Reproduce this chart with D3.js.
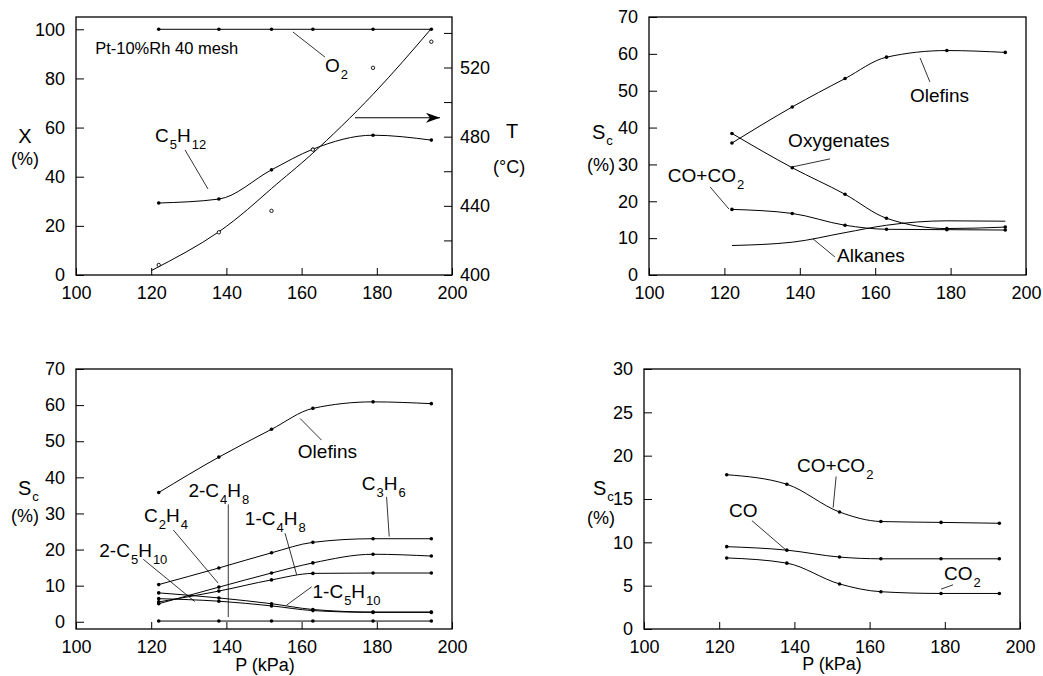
<!DOCTYPE html>
<html lang="en">
<head>
<meta charset="utf-8">
<script src="https://d3js.org/d3.v7.min.js"></script>
<style>
  body { margin: 0; background: #fff; }
  svg { display: block; font-family: "Liberation Sans", Arial, Helvetica, sans-serif; }
  .tick line { stroke: #000; stroke-width: 1; }
  .tick text { font-size: 18px; fill: #000; font-family: "Liberation Sans", Arial, sans-serif; }
  .frame { fill: none; stroke: #000; stroke-width: 1.3; }
  .curve { fill: none; stroke: #000; stroke-width: 1; }
  .leader { stroke: #000; stroke-width: 0.8; }
</style>
</head>
<body>
<svg width="1043" height="676"></svg>
<script>

// pressure (kPa) of the six runs
var pressure = [122, 138, 152, 163, 179, 194.5];

// top left: conversion (%) and catalyst temperature (°C)
var convO2 = [100, 100, 100, 100, 100, 100];
var convC5H12 = [29.3, 30.9, 42.8, 51.2, 56.9, 54.9];
var tempMeasured = [405.8, 424.7, 437.1, 472.5, 519.8, 534.9];
var tempFitP = [120, 138, 152, 163, 179, 194.5];
var tempFit = [402.5, 425, 450, 470.5, 504.5, 542.5];

// top right: carbon selectivity by product group (%)
var selOlefins = [35.8, 45.6, 53.3, 59.1, 60.9, 60.4];
var selOxygenates = [38.4, 29.1, 21.9, 15.4, 12.6, 13.0];
var selCOx = [17.8, 16.7, 13.5, 12.4, 12.3, 12.2];
var selAlkanes = [8.0, 8.9, 11.5, 13.5, 14.7, 14.6];

// bottom left: olefin breakdown (%)
var selC3H6 = [10.3, 14.9, 19.1, 22.0, 23.0, 23.0];
var selC2H4 = [5.0, 9.6, 13.5, 16.3, 18.7, 18.2];
var sel1C4H8 = [5.5, 8.5, 11.6, 13.4, 13.5, 13.5];
var sel2C5H10 = [8.0, 6.6, 5.0, 3.4, 2.7, 2.7];
var sel1C5H10 = [6.4, 5.7, 4.4, 3.1, 2.6, 2.6];
var sel2C4H8 = [0.2, 0.2, 0.2, 0.2, 0.2, 0.2];

// bottom right: carbon oxides (%)
var selCO = [9.5, 9.1, 8.3, 8.1, 8.1, 8.1];
var selCO2 = [8.2, 7.6, 5.2, 4.3, 4.1, 4.1];

var xTicks = [100, 120, 140, 160, 180, 200];
var xTicksY1 = [0, 20, 40, 60, 80, 100];
var tTicks = [400, 420, 440, 460, 480, 500, 520, 540];
var tLabels = [400, 440, 480, 520];
var sTicks70 = [0, 10, 20, 30, 40, 50, 60, 70];
var sTicks30 = [0, 5, 10, 15, 20, 25, 30];


var svg = d3.select("svg");

svg.append("defs").append("marker")
  .attr("id", "arrow")
  .attr("viewBox", "0 0 14 10")
  .attr("refX", 14).attr("refY", 5)
  .attr("markerWidth", 14).attr("markerHeight", 10)
  .attr("markerUnits", "userSpaceOnUse")
  .attr("orient", "auto")
  .append("path")
  .attr("d", "M0,0 L14,5 L0,10 L4,5 Z")
  .attr("fill", "#000");

function panel(o) {
  var x = d3.scaleLinear().domain([100, 200]).range([o.left, o.right]);
  var y = d3.scaleLinear().domain(o.yDomain).range([o.bottom, o.top]);
  var g = svg.append("g");

  g.append("g")
    .attr("transform", "translate(0," + o.bottom + ")")
    .call(d3.axisBottom(x).tickValues(xTicks).tickSizeInner(-7).tickSizeOuter(0).tickPadding(11))
    .call(function (a) { a.select(".domain").remove(); });

  g.append("g")
    .attr("transform", "translate(" + o.left + ",0)")
    .call(d3.axisLeft(y).tickValues(o.yTicks).tickSizeInner(-8).tickSizeOuter(0).tickPadding(11))
    .call(function (a) { a.select(".domain").remove(); });

  g.append("rect")
    .attr("class", "frame")
    .attr("x", o.left).attr("y", o.top)
    .attr("width", o.right - o.left)
    .attr("height", o.bottom - o.top);

  return { g: g, x: x, y: y };
}

function series(p, xs, ys, dots, yScale, curve) {
  var ys_ = yScale || p.y;
  var line = d3.line()
    .x(function (d, i) { return p.x(xs[i]); })
    .y(function (d) { return ys_(d); })
    .curve(curve || d3.curveMonotoneX);
  p.g.append("path").datum(ys).attr("class", "curve").attr("d", line);
  if (dots) {
    p.g.append("g").selectAll("circle")
      .data(ys)
      .enter()
      .append("circle")
      .attr("cx", function (d, i) { return p.x(xs[i]); })
      .attr("cy", function (d) { return ys_(d); })
      .attr("r", 1.8)
      .attr("fill", "#000");
  }
}

// text with chemical subscripts written as _{..}
function label(g, str, x, y, size, subSize, subShift) {
  var t = g.append("text").attr("x", x).attr("y", y)
    .attr("font-size", size).attr("fill", "#000");
  var cur = 0;
  str.split(/(_\{[^}]*\})/).forEach(function (part) {
    if (!part) return;
    if (part.charAt(0) === "_") {
      t.append("tspan").attr("font-size", subSize).attr("dy", subShift - cur)
        .attr("dx", 1).text(part.slice(2, -1));
      cur = subShift;
    } else {
      t.append("tspan").attr("dy", -cur).text(part);
      cur = 0;
    }
  });
  return t;
}

function note(p, str, px, py) {
  return label(p.g, str, p.x(px), p.y(py), 19, 13, 7);
}

function leader(p, x1, y1, x2, y2) {
  p.g.append("line").attr("class", "leader")
    .attr("x1", p.x(x1)).attr("y1", p.y(y1))
    .attr("x2", p.x(x2)).attr("y2", p.y(y2));
}

// ---------- top left ----------
var p1 = panel({ left: 76, right: 452, top: 17, bottom: 275, yDomain: [0, 105], yTicks: xTicksY1 });
var tScale = d3.scaleLinear().domain([400, 549.2]).range([275, 17]);

p1.g.append("g")
  .attr("transform", "translate(452,0)")
  .call(d3.axisRight(tScale).tickValues(tTicks).tickSizeInner(-8).tickSizeOuter(0).tickPadding(8)
    .tickFormat(function (d) { return tLabels.indexOf(d) >= 0 ? d : ""; }))
  .call(function (a) { a.select(".domain").remove(); });

series(p1, pressure, convO2, true);
series(p1, pressure, convC5H12, true);
series(p1, tempFitP, tempFit, false, tScale, d3.curveNatural);

p1.g.append("g").selectAll("circle")
  .data(tempMeasured)
  .enter()
  .append("circle")
  .attr("cx", function (d, i) { return p1.x(pressure[i]); })
  .attr("cy", function (d) { return tScale(d); })
  .attr("r", 1.7)
  .attr("fill", "#fff")
  .attr("stroke", "#000")
  .attr("stroke-width", 0.9);

p1.g.append("line")
  .attr("x1", p1.x(174.2)).attr("y1", p1.y(64))
  .attr("x2", p1.x(196.8)).attr("y2", p1.y(64))
  .attr("stroke", "#000").attr("stroke-width", 1.1)
  .attr("marker-end", "url(#arrow)");

label(p1.g, "Pt-10%Rh 40 mesh", p1.x(105.1), p1.y(89.9), 16.5, 12, 6);
note(p1, "O_{2}", 166.2, 82.6);
leader(p1, 157.7, 98.9, 166.2, 88.7);
note(p1, "C_{5}H_{12}", 121.0, 54.1);
leader(p1, 129.0, 50.9, 135.1, 35.0);

label(svg, "X", 25, 143, 20, 13, 6).attr("text-anchor", "middle");
label(svg, "(%)", 25, 165, 18, 13, 6).attr("text-anchor", "middle");
label(svg, "T", 506, 138, 20, 13, 6);
label(svg, "(°C)", 493, 173, 18, 13, 6);

// ---------- top right ----------
var p2 = panel({ left: 649, right: 1026, top: 17, bottom: 275, yDomain: [0, 70], yTicks: sTicks70 });
series(p2, pressure, selOlefins, true);
series(p2, pressure, selOxygenates, true);
series(p2, pressure, selCOx, true);
series(p2, pressure, selAlkanes, false);

note(p2, "Olefins", 169.2, 47.0);
leader(p2, 171.9, 58.9, 174.5, 52.4);
note(p2, "Oxygenates", 136.9, 34.7);
leader(p2, 148.0, 31.5, 137.9, 29.3);
note(p2, "CO+CO_{2}", 105.0, 25.2);
leader(p2, 116.2, 23.9, 121.2, 17.9);
note(p2, "Alkanes", 149.9, 3.5);
leader(p2, 149.3, 4.9, 143.5, 9.8);

label(svg, "S_{c}", 592, 139, 20, 13, 6);
label(svg, "(%)", 587, 171, 18, 13, 6);

// ---------- bottom left ----------
var p3 = panel({ left: 76, right: 452, top: 369, bottom: 629, yDomain: [-2, 70], yTicks: sTicks70 });
series(p3, pressure, selOlefins, true);
series(p3, pressure, selC3H6, true);
series(p3, pressure, selC2H4, true);
series(p3, pressure, sel1C4H8, true);
series(p3, pressure, sel2C5H10, true);
series(p3, pressure, sel1C5H10, true);
series(p3, pressure, sel2C4H8, true);

note(p3, "Olefins", 159.0, 45.3);
leader(p3, 165.3, 50.3, 159.6, 56.3);
note(p3, "C_{3}H_{6}", 176.0, 36.5);
leader(p3, 182.6, 34.6, 183.3, 23.6);
note(p3, "2-C_{4}H_{8}", 129.9, 34.6);
leader(p3, 140.5, 32.5, 140.5, 1.3);
note(p3, "C_{2}H_{4}", 118.1, 27.7);
leader(p3, 125.9, 25.4, 137.8, 10.7);
note(p3, "1-C_{4}H_{8}", 144.9, 26.8);
leader(p3, 155.6, 24.5, 158.7, 13.0);
note(p3, "2-C_{5}H_{10}", 106.2, 17.9);
leader(p3, 117.9, 17.3, 131.6, 5.6);
note(p3, "1-C_{5}H_{10}", 162.9, 6.5);
leader(p3, 162.7, 9.7, 156.0, 4.6);

label(svg, "S_{c}", 18, 495, 20, 13, 6);
label(svg, "(%)", 11, 522, 18, 13, 6);
label(svg, "P (kPa)", 265, 671, 18, 13, 6).attr("text-anchor", "middle");

// ---------- bottom right ----------
var p4 = panel({ left: 644, right: 1020, top: 369, bottom: 629, yDomain: [0, 30], yTicks: sTicks30 });
series(p4, pressure, selCOx, true);
series(p4, pressure, selCO, true);
series(p4, pressure, selCO2, true);

note(p4, "CO+CO_{2}", 140.7, 18.1);
leader(p4, 151.1, 17.6, 150.3, 14.0);
note(p4, "CO", 122.6, 12.9);
leader(p4, 128.7, 12.5, 137.8, 9.1);
note(p4, "CO_{2}", 179.8, 5.65);
leader(p4, 182.2, 5.1, 179.0, 4.6);

label(svg, "S_{c}", 593, 495, 20, 13, 6);
label(svg, "(%)", 587, 524, 18, 13, 6);
label(svg, "P (kPa)", 832, 670, 18, 13, 6).attr("text-anchor", "middle");

</script>
</body>
</html>
